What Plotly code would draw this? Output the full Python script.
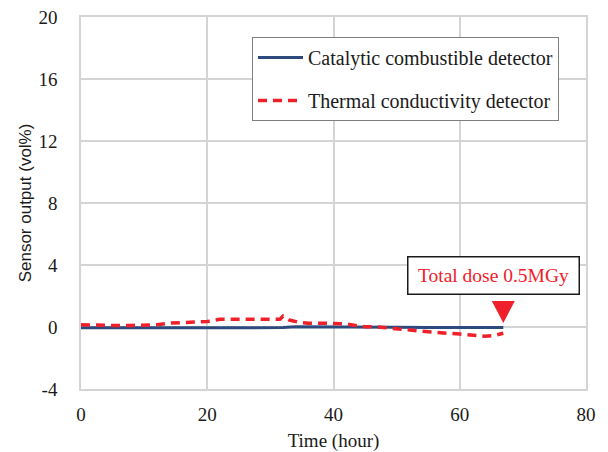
import plotly.graph_objects as go

# Sensor readings during irradiation (time in hours, output in vol%)
catalytic_time = [0, 10, 20, 30, 32, 34, 40, 45, 50, 55, 60, 66.9]
catalytic_output = [-0.05, -0.05, -0.05, -0.05, -0.04, 0.02, 0.02, 0.0, -0.02, -0.03, -0.03, -0.03]

thermal_time = [0, 2, 5, 8, 10, 12, 14, 16, 18, 20, 22, 24, 26, 28, 30, 31.5, 32, 33,
                34.5, 36, 38, 40, 42, 43.5, 45, 47, 49, 51, 53.5, 56, 58, 60, 62, 64, 65.5, 66.9]
thermal_output = [0.15, 0.12, 0.1, 0.1, 0.12, 0.15, 0.25, 0.3, 0.3, 0.35, 0.5, 0.5, 0.45, 0.45,
                  0.45, 0.5, 0.7, 0.45, 0.3, 0.25, 0.25, 0.25, 0.2, 0.1, 0.02, 0.0, -0.05, -0.15,
                  -0.25, -0.35, -0.4, -0.45, -0.5, -0.6, -0.55, -0.4]

series_names = ["Catalytic combustible detector", "Thermal conductivity detector"]
dose_label = "Total dose 0.5MGy"

x_ticks = [0, 20, 40, 60, 80]
y_ticks = [-4, 0, 4, 8, 12, 16, 20]
y_tick_labels = ["-4", "0", "4", "8", "12", "16", "20"]

SERIF = "Liberation Serif"
SANS = "Liberation Sans"
GRID = "#d4d4d4"
BLUE = "#2d4a7e"
RED = "#f0202a"

fig = go.Figure()
fig.add_trace(go.Scatter(
    x=catalytic_time, y=catalytic_output, mode="lines", name=series_names[0],
    line=dict(color=BLUE, width=3), legendgroup="a",
))
fig.add_trace(go.Scatter(
    x=thermal_time, y=thermal_output, mode="lines", name=series_names[1],
    line=dict(color=RED, width=3.5, dash="9px,6px"), legendgroup="b",
))

# Red downward triangle marking the end of irradiation
end_time = catalytic_time[-1]
fig.add_shape(
    type="path", xref="x", yref="y", xsizemode="pixel", ysizemode="pixel",
    xanchor=end_time, yanchor=0,
    path="M -11.5 26 L 11.5 26 L 0 4 Z",
    fillcolor=RED, line=dict(width=0),
)

fig.add_annotation(
    x=65.4, y=3.35, xref="x", yref="y", text=dose_label, showarrow=False,
    font=dict(family=SERIF, size=19.5, color=RED),
    bgcolor="white", bordercolor="#1a1a1a", borderwidth=1.5, borderpad=6,
    width=158, height=24,
)

axis_common = dict(
    showgrid=True, gridcolor=GRID, gridwidth=1.5,
    showline=True, linecolor=GRID, linewidth=1.5, mirror=True,
    zeroline=False, ticks="", automargin=False,
    tickfont=dict(family=SERIF, size=19, color="#1a1a1a"),
)

fig.update_layout(
    width=608, height=452,
    margin=dict(l=81, r=22, t=17, b=63),
    paper_bgcolor="white", plot_bgcolor="white",
    showlegend=True,
    legend=dict(
        x=0.3386, y=0.946, xanchor="left", yanchor="top",
        bordercolor="#7f7f7f", borderwidth=1, bgcolor="white",
        font=dict(family=SERIF, size=20, color="#1a1a1a"),
        tracegroupgap=14, itemwidth=45, entrywidth=262,
    ),
    xaxis=dict(
        range=[0, 80], tickvals=x_ticks, ticklabelstandoff=7,
        title=dict(text="Time (hour)", font=dict(family=SERIF, size=19, color="#1a1a1a"), standoff=11),
        **axis_common,
    ),
    yaxis=dict(
        range=[-4, 20], tickvals=y_ticks, ticktext=y_tick_labels, ticklabelstandoff=18,
        title=dict(text="Sensor output (vol%)", font=dict(family=SANS, size=17, color="#1a1a1a"), standoff=3),
        **axis_common,
    ),
)

fig.write_html("out.html")
